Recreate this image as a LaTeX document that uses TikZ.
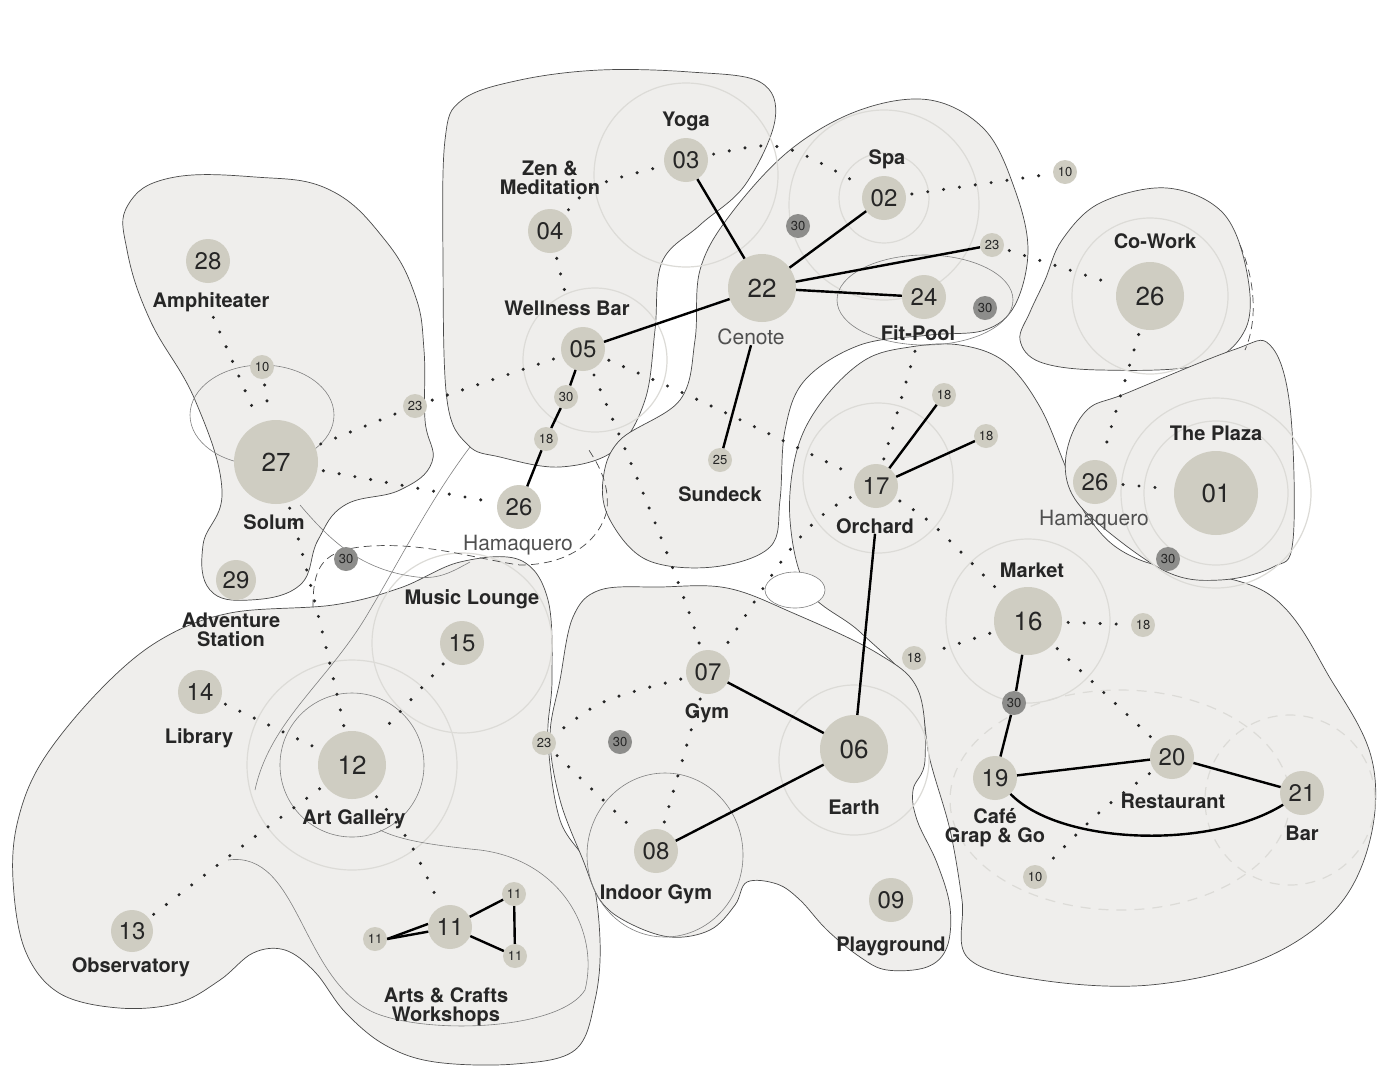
\documentclass[tikz,border=0pt]{standalone}
\usepackage{fontspec}
\setmainfont{TeX Gyre Heros}
\definecolor{blob}{HTML}{EFEEEC}
\definecolor{nodefill}{HTML}{CFCDC2}
\definecolor{darknode}{HTML}{8D8D8B}
\definecolor{ringc}{HTML}{DCDBD7}
\definecolor{edgec}{HTML}{4A4A4A}
\definecolor{ink}{HTML}{262626}
\definecolor{greytext}{HTML}{505050}
\tikzset{
  blobst/.style={fill=blob, draw=edgec, line width=0.7pt},
  ringst/.style={draw=ringc, line width=1.2pt},
  thinst/.style={draw=edgec!70, line width=0.6pt},
  dashst/.style={draw=edgec, line width=0.7pt, dash pattern=on 8pt off 5pt},
  hugenode/.style={circle, fill=nodefill, minimum size=84pt, inner sep=0pt, font=\fontsize{26}{26}\selectfont, text=ink},
  bignode/.style={circle, fill=nodefill, minimum size=68pt, inner sep=0pt, font=\fontsize{26}{26}\selectfont, text=ink},
  midnode/.style={circle, fill=nodefill, minimum size=44pt, inner sep=0pt, font=\fontsize{24}{24}\selectfont, text=ink},
  smallnode/.style={circle, fill=nodefill, minimum size=24pt, inner sep=0pt, font=\fontsize{13}{13}\selectfont, text=ink},
  darksmall/.style={smallnode, fill=darknode},
  lab/.style={font=\fontsize{20}{19}\selectfont\bfseries, text=ink, align=center, inner sep=0pt},
  labreg/.style={font=\fontsize{21}{21}\selectfont, text=greytext, align=center, inner sep=0pt},
  solidln/.style={draw=black, line width=2.4pt},
  dotln/.style={draw=ink, line width=3.4pt, line cap=round, dash pattern=on 0pt off 16pt, shorten <=6pt, shorten >=6pt},
}
\begin{document}
\begin{tikzpicture}[x=1pt,y=-1pt]
\fill[white] (0,0) rectangle (1378,1066);
\useasboundingbox (0,0) rectangle (1378,1066);

% ---------- blobs ----------
% A: Amphiteater / Solum
\path[blobst] plot[smooth cycle, tension=0.7] coordinates {(128,205) (170,178) (255,177) (330,190) (385,240) (415,295) (424,350) (425,420) (432,462) (400,490) (345,505) (318,540) (300,585) (250,600) (210,590) (203,545) (222,490) (195,400) (150,320) (127,250)};
% B: lower left
\path[blobst] plot[smooth cycle, tension=0.6] coordinates {(43,760) (100,690) (160,640) (230,613) (333,605) (400,588) (460,562) (520,560) (548,600) (552,680) (548,740) (560,820) (590,870) (600,940) (595,1000) (575,1050) (515,1064) (435,1062) (385,1045) (345,1012) (315,972) (285,950) (253,953) (220,980) (178,1003) (119,1008) (59,993) (25,950) (13,880) (18,820)};
% C: Wellness
\path[blobst] plot[smooth cycle, tension=0.6] coordinates {(445,140) (462,100) (520,80) (600,70) (690,72) (760,82) (775,120) (745,185) (700,225) (662,262) (655,330) (645,400) (615,450) (560,467) (500,457) (468,445) (447,400) (443,260)};
% D: Cenote / Spa / Sundeck
\path[blobst] plot[smooth cycle, tension=0.6] coordinates {(700,270) (730,215) (790,150) (860,110) (930,100) (985,130) (1015,190) (1028,250) (1015,305) (985,330) (930,335) (860,345) (805,380) (785,430) (780,500) (770,547) (713,567) (647,560) (610,520) (603,480) (620,440) (680,400) (695,340)};
% E: Orchard / Market / Restaurant
\path[blobst] plot[smooth cycle, tension=0.6] coordinates {(823,400) (865,360) (910,347) (960,345) (1005,362) (1040,407) (1067,470) (1090,520) (1140,560) (1267,593) (1333,683) (1372,760) (1370,840) (1335,910) (1260,960) (1150,985) (1040,980) (968,958) (962,900) (950,830) (930,760) (915,690) (860,632) (808,590) (790,520) (797,450)};
% F: Gym / Earth / Playground
\path[blobst] plot[smooth cycle, tension=0.6] coordinates {(573,617) (600,590) (660,587) (727,588) (793,613) (877,653) (918,690) (925,760) (913,790) (917,820) (937,863) (950,907) (947,947) (927,967) (887,970) (860,957) (827,930) (800,900) (777,884) (747,882) (735,905) (710,930) (670,937) (627,922) (600,900) (583,860) (560,800) (550,737) (560,680)};
% G: Co-Work
\path[blobst] plot[smooth cycle, tension=0.6] coordinates {(1020,340) (1030,312) (1045,280) (1062,240) (1100,203) (1167,188) (1223,213) (1247,273) (1245,330) (1200,365) (1100,370) (1040,362)};
% H: The Plaza
\path[blobst] plot[smooth cycle, tension=0.6] coordinates {(1067,450) (1087,410) (1127,393) (1233,350) (1270,345) (1290,407) (1293,540) (1273,567) (1220,580) (1167,572) (1100,525) (1070,490)};

% ---------- rings and thin lines ----------
\draw[ringst] (686,175) circle (92);
\draw[ringst] (884,198) circle (45);
\draw[ringst] (884,205) circle (95);
\draw[ringst] (595,360) circle (72);
\draw[ringst] (1150,296) circle (78);
\draw[ringst] (1216,493) circle (72);
\draw[ringst] (1216,493) circle (95);
\draw[ringst] (1028,621) circle (82);
\draw[ringst] (878,478) circle (75);
\draw[ringst] (462,643) circle (90);
\draw[ringst] (854,760) circle (75);
\draw[ringst, dash pattern=on 10pt off 8pt] (1290,800) circle (85);
\draw[ringst, dash pattern=on 10pt off 8pt] (1120,800) ellipse (170 and 110);
\draw[ringst] (352,765) circle (105);
\draw[thinst] (352,765) circle (72);
\draw[thinst] (925,300) ellipse (88 and 45);
\draw[thinst] (262,415) ellipse (72 and 50);
\draw[thinst] (665,855) ellipse (78 and 82);
\draw[thinst] (300,505) .. controls (330,540) and (360,570) .. (417,577) .. controls (440,580) and (455,570) .. (470,562);
\draw[thinst] (470,447) .. controls (430,500) and (400,560) .. (370,610) .. controls (330,680) and (270,720) .. (255,790);
\draw[thinst, fill=white] (795,590) ellipse (30 and 18);
\draw[thinst] (228,860) .. controls (300,850) and (300,980) .. (375,1013) .. controls (430,1035) and (560,1030) .. (585,990) .. controls (600,930) and (560,860) .. (480,850) .. controls (430,845) and (400,840) .. (380,830);
\draw[dashst] (313,607) .. controls (313,570) and (320,552) .. (360,547) .. controls (420,540) and (480,560) .. (520,565) .. controls (570,565) and (600,540) .. (607,510) .. controls (610,480) and (595,460) .. (587,447);
\draw[dashst] (1240,245) .. controls (1255,280) and (1258,320) .. (1245,350);

% ---------- nodes ----------
\node[midnode] (n28) at (208,261) {28};
\node[lab] (l28) at (211,302) {Amphiteater};
\node[smallnode] (n10a) at (262,367) {10};
\node[hugenode] (n27) at (276,462) {27};
\node[lab] (l27) at (274,522) {Solum};
\node[smallnode] (n23a) at (415,406) {23};
\node[midnode] (n26a) at (519,507) {26};
\node[labreg] (l26a) at (518,545) {Hamaquero};
\node[midnode, minimum size=40pt] (n29) at (236,580) {29};
\node[lab] (l29) at (231,630) {Adventure\\Station};
\node[darksmall] (n30a) at (346,559) {30};
\node[midnode] (n04) at (550,231) {04};
\node[lab] (l04) at (550,178) {Zen \&\\Meditation};
\node[midnode] (n03) at (686,160) {03};
\node[lab] (l03) at (686,121) {Yoga};
\node[midnode] (n05) at (583,349) {05};
\node[lab] (l05) at (567,308) {Wellness Bar};
\node[smallnode] (n30b) at (566,397) {30};
\node[smallnode] (n18a) at (546,439) {18};
\node[bignode] (n22) at (762,288) {22};
\node[labreg] (l22) at (751,337) {Cenote};
\node[darksmall] (n30c) at (798,226) {30};
\node[midnode] (n02) at (884,198) {02};
\node[lab] (l02) at (887,159) {Spa};
\node[smallnode] (n10b) at (1065,172) {10};
\node[smallnode] (n23b) at (992,245) {23};
\node[midnode] (n24) at (924,297) {24};
\node[lab] (l24) at (918,333) {Fit-Pool};
\node[darksmall] (n30d) at (985,308) {30};
\node[bignode] (n26b) at (1150,296) {26};
\node[lab] (l26b) at (1155,241) {Co-Work};
\node[smallnode] (n25) at (720,460) {25};
\node[lab] (l25) at (720,494) {Sundeck};
\node[midnode] (n17) at (876,486) {17};
\node[lab] (l17) at (875,526) {Orchard};
\node[smallnode] (n18b) at (944,395) {18};
\node[smallnode] (n18c) at (986,436) {18};
\node[midnode] (n26c) at (1095,482) {26};
\node[labreg] (l26c) at (1094,520) {Hamaquero};
\node[hugenode] (n01) at (1216,493) {01};
\node[lab] (l01) at (1216,433) {The Plaza};
\node[darksmall] (n30e) at (1168,559) {30};
\node[bignode] (n16) at (1028,621) {16};
\node[lab] (l16) at (1032,570) {Market};
\node[smallnode] (n18d) at (1143,625) {18};
\node[smallnode] (n18e) at (914,658) {18};
\node[darksmall] (n30f) at (1014,703) {30};
\node[midnode] (n19) at (995,778) {19};
\node[lab] (l19) at (995,828) {Café\\Grap \& Go};
\node[midnode] (n20) at (1172,757) {20};
\node[lab] (l20) at (1173,801) {Restaurant};
\node[midnode] (n21) at (1302,793) {21};
\node[lab] (l21) at (1302,833) {Bar};
\node[smallnode] (n10c) at (1035,877) {10};
\node[midnode] (n15) at (462,643) {15};
\node[lab] (l15) at (472,599) {Music Lounge};
\node[midnode] (n14) at (200,692) {14};
\node[lab] (l14) at (199,738) {Library};
\node[bignode] (n12) at (352,765) {12};
\node[lab] (l12) at (354,819) {Art Gallery};
\node[midnode, minimum size=42pt] (n13) at (132,931) {13};
\node[lab] (l13) at (131,967) {Observatory};
\node[midnode] (n11) at (450,927) {11};
\node[lab] (l11) at (446,1007) {Arts \& Crafts\\Workshops};
\node[smallnode] (n11a) at (514,894) {11};
\node[smallnode] (n11b) at (515,956) {11};
\node[smallnode] (n11c) at (375,939) {11};
\node[midnode] (n07) at (708,672) {07};
\node[lab] (l07) at (707,713) {Gym};
\node[bignode] (n06) at (854,749) {06};
\node[lab] (l06) at (854,807) {Earth};
\node[midnode] (n08) at (656,851) {08};
\node[lab] (l08) at (656,894) {Indoor Gym};
\node[midnode] (n09) at (891,900) {09};
\node[lab] (l09) at (891,946) {Playground};
\node[smallnode] (n23c) at (544,743) {23};
\node[darksmall] (n30g) at (620,742) {30};

% ---------- dotted connectors ----------
\draw[dotln] (l28.south) -- (n27);
\draw[dotln] (n10a) -- (n27);
\draw[dotln] (n27) -- (n23a);
\draw[dotln] (n23a) -- (n05);
\draw[dotln] (n27) -- (n26a);
\draw[dotln] (n27) .. controls (305,560) and (330,660) .. (n12);
\draw[dotln] (n04) .. controls (590,185) .. (n03);
\draw[dotln] (n04) -- (l05.north);
\draw[dotln] (n03) .. controls (780,140) .. (n02);
\draw[dotln] (n02) -- (n10b);
\draw[dotln] (n23b) -- (n26b);
\draw[dotln] (n26b) -- (n26c);
\draw[dotln] (n26c) -- (n01);
\draw[dotln] (n05) .. controls (700,400) .. (n17);
\draw[dotln] (n05) .. controls (630,460) and (680,580) .. (n07);
\draw[dotln] (n17) .. controls (800,520) and (770,580) .. (n07);
\draw[dotln] (n17) -- (l24.south);
\draw[dotln] (n17) .. controls (930,520) .. (n16);
\draw[dotln] (n16) -- (n18d);
\draw[dotln] (n16) -- (n18e);
\draw[dotln] (n16) -- (n20);
\draw[dotln] (n20) .. controls (1100,810) .. (n10c);
\draw[dotln] (n14) -- (n12);
\draw[dotln] (n15) -- (n12);
\draw[dotln] (n12) .. controls (250,840) .. (n13);
\draw[dotln] (n12) .. controls (410,840) .. (n11);
\draw[dotln] (n07) .. controls (600,700) .. (n23c);
\draw[dotln] (n23c) -- (n08);
\draw[dotln] (n07) -- (n08);

% ---------- solid connectors ----------
\draw[solidln] (n03) -- (n22);
\draw[solidln] (n22) -- (n02);
\draw[solidln] (n22) -- (n23b);
\draw[solidln] (n22) -- (n24);
\draw[solidln] (n22) -- (n05);
\draw[solidln] (l22.south) -- (n25);
\draw[solidln] (n05) -- (n30b);
\draw[solidln] (n30b) -- (n18a);
\draw[solidln] (n18a) -- (n26a);
\draw[solidln] (n17) -- (n18b);
\draw[solidln] (n17) -- (n18c);
\draw[solidln] (l17.south) -- (n06);
\draw[solidln] (n07) -- (n06);
\draw[solidln] (n06) -- (n08);
\draw[solidln] (n16) -- (n30f);
\draw[solidln] (n30f) -- (n19);
\draw[solidln] (n19) -- (n20);
\draw[solidln] (n20) -- (n21);
\draw[solidln] (n19) .. controls (1060,845) and (1210,850) .. (n21);
\draw[solidln] (n11) -- (n11a);
\draw[solidln] (n11a) -- (n11b);
\draw[solidln] (n11) -- (n11b);
\draw[solidln] (n11.172) -- (n11c.east);
\draw[solidln] (n11.192) -- (n11c.east);
\end{tikzpicture}
\end{document}
